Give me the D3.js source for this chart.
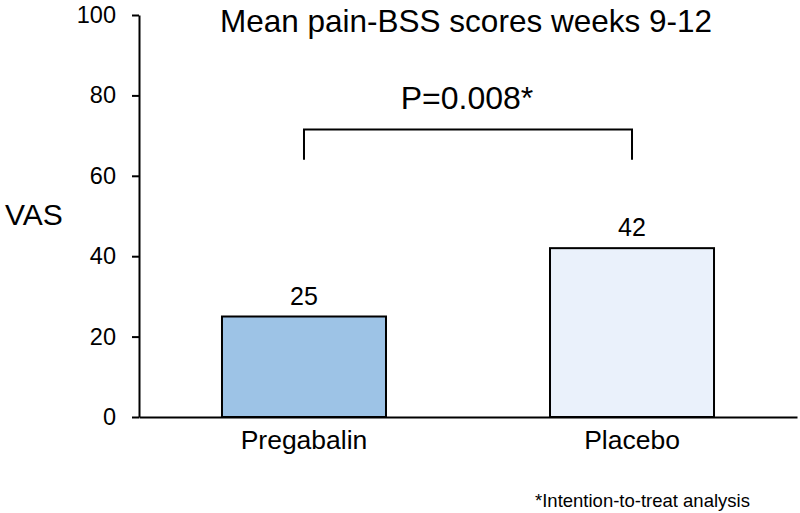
<!DOCTYPE html>
<html><head><meta charset="utf-8">
<script src="https://cdn.jsdelivr.net/npm/d3@7"></script>
<style>body{margin:0;background:#fff}svg{display:block}text{font-family:"Liberation Sans",Arial,sans-serif;fill:#000}</style>
</head><body><svg id="c" width="800" height="513"></svg>
<script>
const categories = ["Pregabalin", "Placebo"];
const values = [25, 42];
const colors = ["#9DC3E6", "#EAF1FB"];
const yTicks = [0, 20, 40, 60, 80, 100];
const title = "Mean pain-BSS scores weeks 9-12";
const yLabel = "VAS";
const pText = "P=0.008*";
const bracket = [71.5, 64];
const footnote = "*Intention-to-treat analysis";

const svg = d3.select("#c");
const x = d3.scaleBand().domain(categories).range([139, 797]).paddingInner(0.5).paddingOuter(0.253);
const y = d3.scaleLinear().domain([0, 100]).range([417, 15]);

// y axis
const ya = svg.append("g").attr("transform", "translate(139,0)")
  .call(d3.axisLeft(y).tickValues(yTicks).tickSize(7).tickPadding(16).tickSizeOuter(0));
ya.select(".domain").attr("stroke", "#000").attr("stroke-width", 2);
ya.selectAll(".tick line").attr("stroke", "#000").attr("stroke-width", 2);
ya.selectAll(".tick text").attr("font-size", 23.5).attr("font-family", "Liberation Sans, Arial, sans-serif");

// bars
svg.selectAll("rect.bar").data(categories).join("rect").attr("class", "bar")
  .attr("x", d => x(d)).attr("width", x.bandwidth())
  .attr("y", (d, i) => y(values[i])).attr("height", (d, i) => y(0) - y(values[i]))
  .attr("fill", (d, i) => colors[i]).attr("stroke", "#000").attr("stroke-width", 2);

// x axis
const xa = svg.append("g").attr("transform", "translate(0,417)")
  .call(d3.axisBottom(x).tickSize(0).tickPadding(13));
xa.select(".domain").attr("stroke", "#000").attr("stroke-width", 2);
xa.selectAll(".tick text").attr("font-size", 26.5).attr("font-family", "Liberation Sans, Arial, sans-serif");

// value labels
svg.selectAll("text.val").data(categories).join("text").attr("class", "val")
  .attr("x", d => x(d) + x.bandwidth() / 2)
  .attr("y", (d, i) => y(values[i]) - 12)
  .attr("text-anchor", "middle").attr("font-size", 25)
  .text((d, i) => values[i]);

// bracket
const cx0 = x(categories[0]) + x.bandwidth() / 2;
const cx1 = x(categories[1]) + x.bandwidth() / 2;
svg.append("path")
  .attr("d", d3.line()([[cx0, y(bracket[1])], [cx0, y(bracket[0])], [cx1, y(bracket[0])], [cx1, y(bracket[1])]]))
  .attr("fill", "none").attr("stroke", "#000").attr("stroke-width", 2);
svg.append("text").attr("x", (cx0 + cx1) / 2 - 1).attr("y", 109)
  .attr("text-anchor", "middle").attr("font-size", 32).text(pText);

// title
svg.append("text").attr("x", 466).attr("y", 32).attr("text-anchor", "middle")
  .attr("font-size", 31.5).text(title);

// y label
svg.append("text").attr("x", 5).attr("y", 225).attr("font-size", 30).text(yLabel);

// footnote
svg.append("text").attr("x", 535).attr("y", 507).attr("font-size", 18.5).text(footnote);
</script></body></html>
